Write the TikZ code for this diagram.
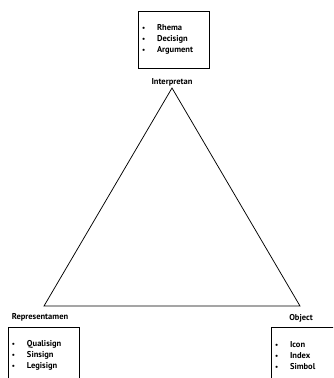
\documentclass[tikz,border=0pt]{standalone}
\usepackage{fontspec}
\setmainfont{PT Sans}
\usepackage{tikz}
\usetikzlibrary{positioning}

\newcommand{\signitem}[1]{\makebox[15pt][l]{\scriptsize\textbullet}#1}

\begin{document}
\begin{tikzpicture}[
    x=1pt, y=-1pt,
    signbox/.style={draw, line width=0.9pt, minimum width=71pt, minimum height=57pt, text width=63pt, inner xsep=4pt, align=left, font=\fontsize{8.5}{11}\selectfont\bfseries},
    corner/.style={font=\fontsize{8.5}{11}\selectfont\bfseries, inner sep=1pt},
    side/.style={line width=0.75pt}
]
    \clip (0,0) rectangle (333,378);

    % Triangle corners
    \coordinate (interp) at (172,88);
    \coordinate (repr) at (44,306);
    \coordinate (obj) at (300,306);

    \draw[side] (interp) -- (repr) -- (obj) -- cycle;

    % Labels
    \node[corner, above=1pt of interp] (interplabel) {Interpretan};
    \node[corner] (reprlabel) at (40,317) {Representamen};
    \node[corner] (objlabel) at (301,318) {Object};

    % Boxes
    \node[signbox] (interpbox) at (173.5,39.5) {\signitem{Rhema}\\\signitem{Decisign}\\\signitem{Argument}};
    \node[signbox] (reprbox) at (43.5,355.5) {\signitem{Qualisign}\\\signitem{Sinsign}\\\signitem{Legisign}};
    \node[signbox] (objbox) at (306.5,356) {\signitem{Icon}\\\signitem{Index}\\\signitem{Simbol}};
\end{tikzpicture}
\end{document}
